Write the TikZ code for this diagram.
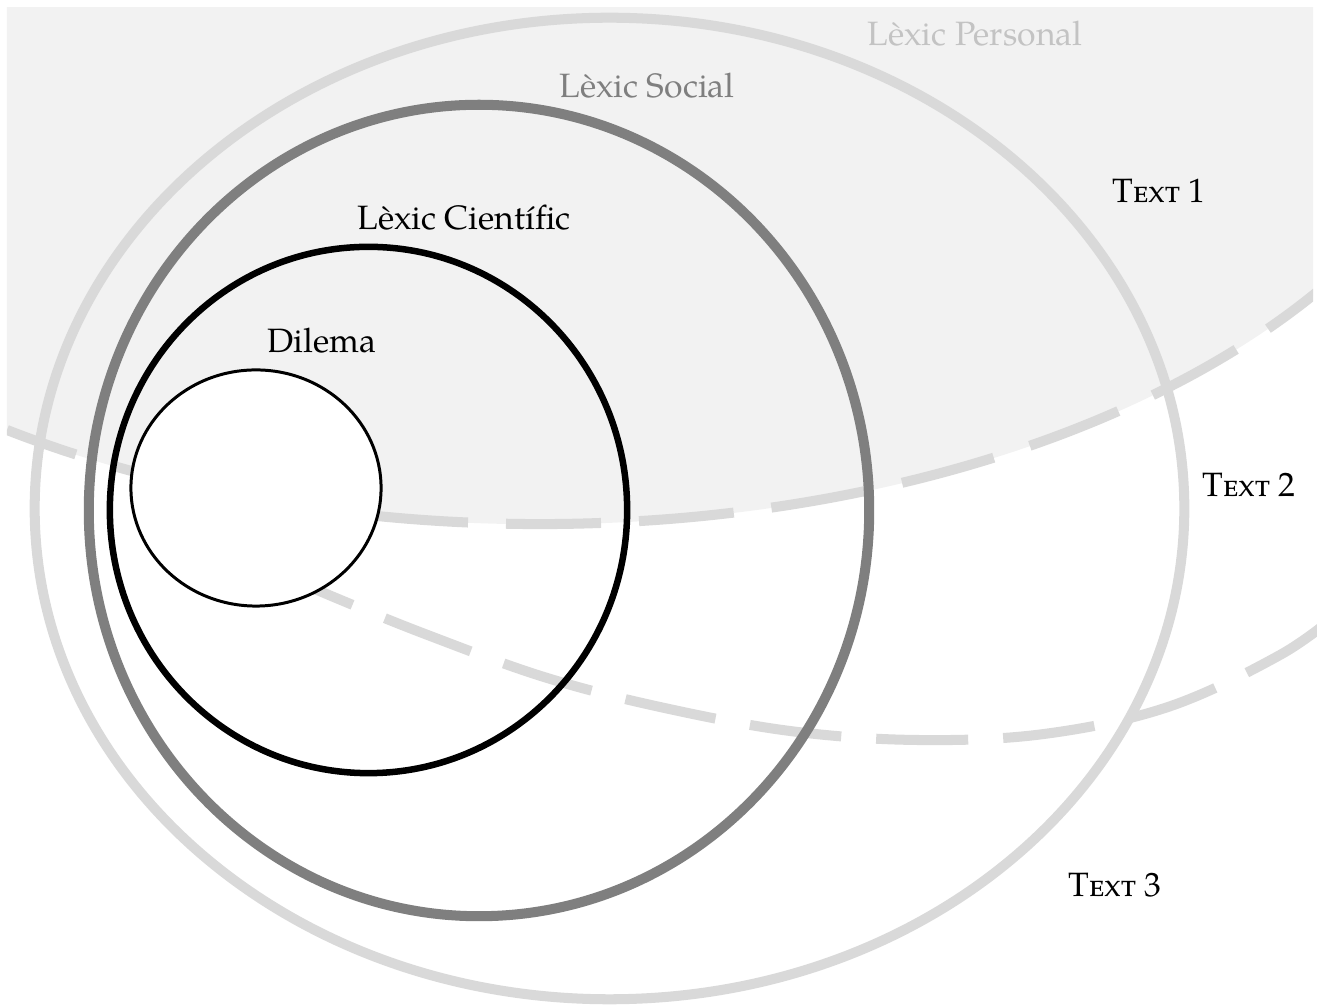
\documentclass[tikz,border=0pt]{standalone}
\usepackage{fontspec}
\setmainfont{texgyrepagella-regular.otf}[BoldFont=texgyrepagella-bold.otf,ItalicFont=texgyrepagella-italic.otf]
\definecolor{fillgray}{HTML}{F2F2F2}
\definecolor{lightline}{HTML}{D9D9D9}
\definecolor{midline}{HTML}{7F7F7F}
\definecolor{perstext}{HTML}{C3C3C3}
\definecolor{soctext}{HTML}{7F7F7F}
\tikzset{
  dashline/.style={draw=lightline, line width=2.85pt},
  upperdash/.style={dashline, dash pattern=on 0.95cm off 0.38cm},
  lowerdash/.style={dashline, dash pattern=on 0.92cm off 0.35cm},
  personalring/.style={draw=lightline, line width=2.85pt},
  socialring/.style={draw=midline, line width=2.85pt},
  cientring/.style={draw=black, line width=1.85pt},
  dilemaring/.style={draw=black, fill=white, line width=0.85pt},
  lbl/.style={inner sep=0pt, anchor=base, font=\fontsize{9.6}{11}\selectfont},
}
\begin{document}
\begin{tikzpicture}[x=0.01cm, y=-0.01cm]
\useasboundingbox (0,0) rectangle (1317,1007);
% shaded region (Text 1)
\begin{scope}
  \clip (7,8) rectangle (1313,1007);
  \fill[fillgray] (540,-23) ellipse [x radius=9.5cm, y radius=5.47cm];
  \draw[upperdash, dash phase=0.22cm] (7,430) arc [start angle=235.9, end angle=330, x radius=9.5cm, y radius=5.47cm];
\end{scope}
% lower dashed boundary (Text 2 / Text 3)
\begin{scope}
  \clip (0,0) rectangle (1317,1007);
  \draw[lowerdash, dash phase=0.24cm] plot[smooth, tension=0.6] coordinates {(290,578) (336,598) (425,634) (544,677) (660,707) (790,731) (917,740) (1044,734) (1168,707) (1280,655) (1340,612)};
\end{scope}
% rings
\draw[personalring] (609.5,508.5) ellipse [x radius=5.745cm, y radius=4.905cm];
\draw[socialring] (479,510.5) ellipse [x radius=3.9cm, y radius=4.055cm];
\draw[cientring] (368.5,510) ellipse [x radius=2.585cm, y radius=2.63cm];
\draw[dilemaring] (256,488) ellipse [x radius=1.25cm, y radius=1.18cm];
% labels
\node[lbl, text=perstext] (personal) at (975,46) {L\`exic Personal};
\node[lbl, text=soctext] (social) at (647,98) {L\`exic Social};
\node[lbl] (cientific) at (464,230) {L\`exic Cient\'{\i}fic};
\node[lbl] (dilema) at (322,353) {Dilema};
\node[lbl] (text1) at (1159,203) {\textsc{Text 1}};
\node[lbl] (text2) at (1249,497) {\textsc{Text 2}};
\node[lbl] (text3) at (1115,897) {\textsc{Text 3}};
\end{tikzpicture}
\end{document}
